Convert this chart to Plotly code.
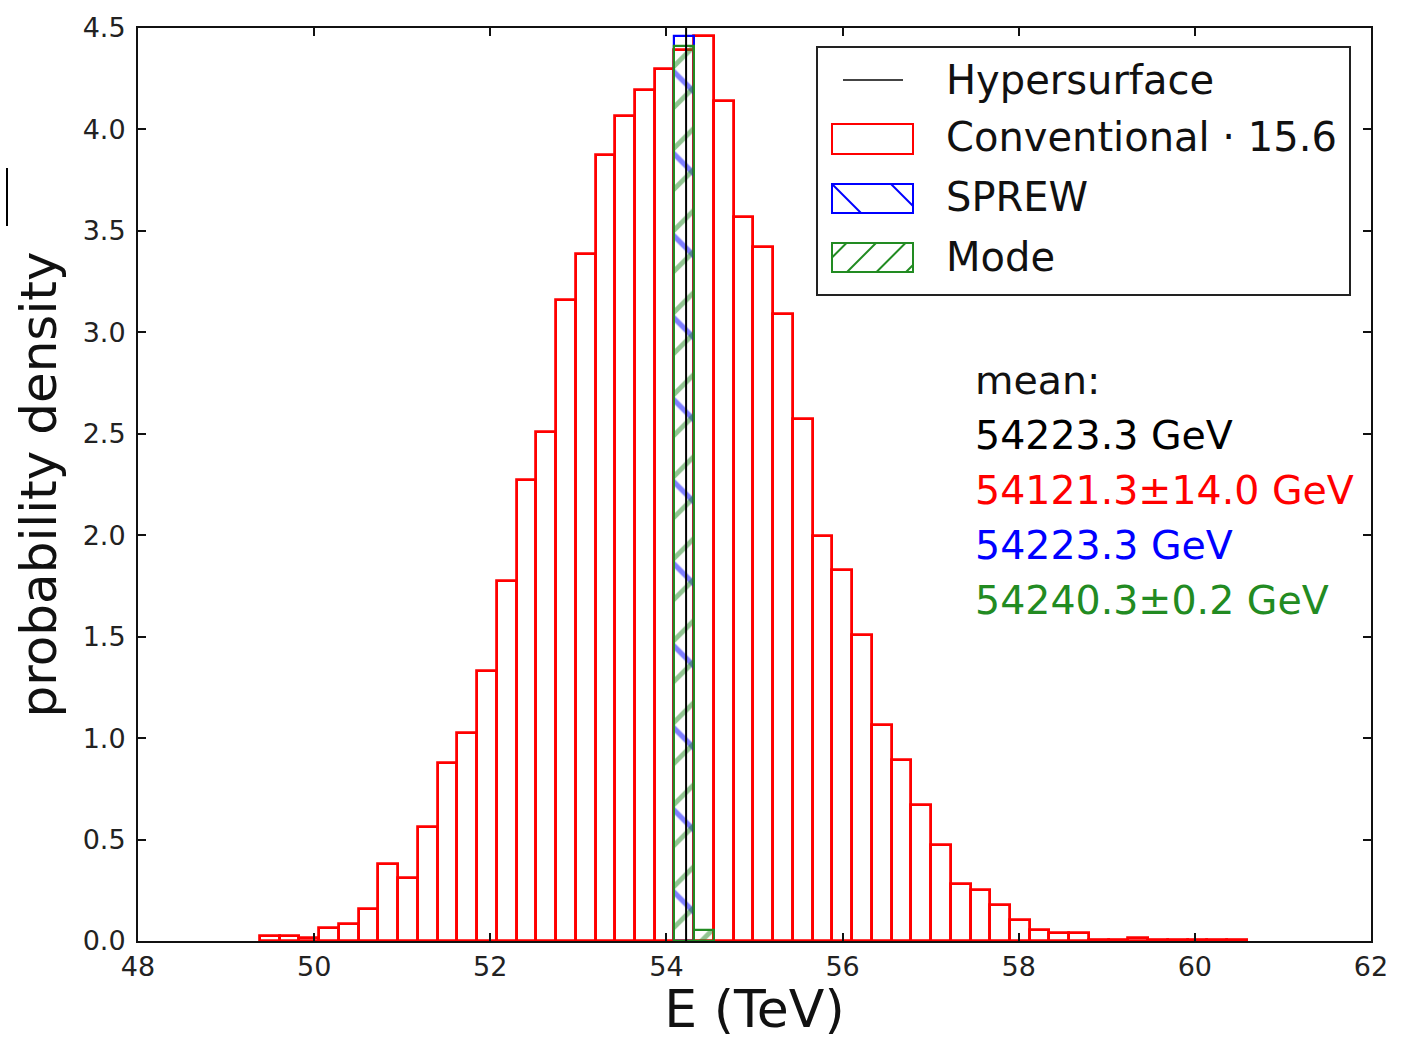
import numpy as np
import plotly.graph_objects as go

# ---------------- data ----------------
bin_start = 49.385          # TeV, left edge of first histogram bin
bin_width = 0.2241          # TeV
conventional_density = [
    0.026, 0.025, 0.013, 0.066, 0.082, 0.158, 0.380, 0.309, 0.563, 0.879,
    1.024, 1.331, 1.774, 2.272, 2.509, 3.159, 3.386, 3.874, 4.066, 4.194,
    4.298, 4.390, 4.460, 4.140, 3.568, 3.420, 3.090, 2.573, 1.996, 1.830,
    1.508, 1.065, 0.892, 0.670, 0.473, 0.281, 0.251, 0.177, 0.103, 0.054,
    0.041, 0.041, 0.003, 0.004, 0.013, 0.003, 0.003, 0.005, 0.005, 0.005,
]
sprew_bins = [21]
sprew_density = [4.462]
mode_bins = [21, 22]
mode_density = [4.410, 0.054]
hypersurface_mean = 54.2233  # TeV

legend_labels = ["Hypersurface", "Conventional \u00b7 15.6", "SPREW", "Mode"]
mean_title = "mean:"
mean_labels = ["54223.3 GeV", "54121.3\u00b114.0 GeV", "54223.3 GeV", "54240.3\u00b10.2 GeV"]
mean_colors = ["black", "#ff0000", "#0000ff", "#228b22"]

x_range = [48, 62]
y_range = [0, 4.5]

# ---------------- figure geometry ----------------
W, H = 1412, 1039
L, R, T, B = 138, 41, 28, 98
PW, PH = W - L - R, H - T - B


def px(xp):
    return (xp - L) / PW


def py(yp):
    return (H - B - yp) / PH


FONT = "DejaVu Sans"
RED, BLUE, GREEN = "#ff0000", "#0000ff", "#228b22"

n = len(conventional_density)
centers = bin_start + bin_width * (np.arange(n) + 0.5)

fig = go.Figure()

fig.add_trace(go.Bar(
    x=centers, y=conventional_density, width=bin_width,
    marker=dict(color="rgba(0,0,0,0)", line=dict(color=RED, width=2.8)),
    name=legend_labels[1], showlegend=False,
))
fig.add_trace(go.Bar(
    x=centers[sprew_bins], y=sprew_density, width=bin_width,
    marker=dict(color="rgba(0,0,0,0)", line=dict(color=BLUE, width=2.2),
                pattern=dict(shape="\\", size=58, solidity=0.09,
                             fgcolor=BLUE, bgcolor="rgba(0,0,0,0)")),
    name=legend_labels[2], showlegend=False,
))
fig.add_trace(go.Bar(
    x=centers[mode_bins], y=mode_density, width=bin_width,
    marker=dict(color="rgba(0,0,0,0)", line=dict(color=GREEN, width=2.2),
                pattern=dict(shape="/", size=29, solidity=0.17,
                             fgcolor=GREEN, bgcolor="rgba(0,0,0,0)")),
    name=legend_labels[3], showlegend=False,
))

shapes = []
annotations = []

# ---------------- custom legend ----------------
shapes.append(dict(type="rect", xref="paper", yref="paper",
                   x0=px(817), x1=px(1350), y0=py(295), y1=py(47),
                   line=dict(color="#222222", width=2), fillcolor="white", layer="above"))
shapes.append(dict(type="line", xref="paper", yref="paper",
                   x0=px(843), x1=px(903), y0=py(80), y1=py(80),
                   line=dict(color="#444444", width=2)))
sym_x0, sym_x1 = 832, 913
boxes = [(124, 154, RED), (184, 213, BLUE), (243, 272, GREEN)]
for y0, y1, c in boxes:
    shapes.append(dict(type="rect", xref="paper", yref="paper",
                       x0=px(sym_x0), x1=px(sym_x1), y0=py(y1), y1=py(y0),
                       line=dict(color=c, width=2), fillcolor="rgba(0,0,0,0)"))


def hatch(x0, x1, y0, y1, slope, c0, step, color):
    # screen coords lines: y = slope*x + c
    segs = []
    for k in range(-10, 11):
        c = c0 + k * step
        xa = (y0 - c) / slope
        xb = (y1 - c) / slope
        lo, hi = max(x0, min(xa, xb)), min(x1, max(xa, xb))
        if hi - lo > 1:
            segs.append(dict(type="line", xref="paper", yref="paper",
                             x0=px(lo), x1=px(hi),
                             y0=py(slope * lo + c), y1=py(slope * hi + c),
                             line=dict(color=color, width=2)))
    return segs


shapes += hatch(sym_x0, sym_x1, 184, 213, 1, 184 - 832, 59, BLUE)
shapes += hatch(sym_x0, sym_x1, 243, 272, -1, 272 + 847, 29.5, GREEN)

leg_y = [80, 137, 197, 257]
for lab, yy in zip(legend_labels, leg_y):
    annotations.append(dict(text=lab, xref="paper", yref="paper", x=px(944), y=py(yy),
                            xanchor="left", yanchor="middle", showarrow=False,
                            font=dict(family=FONT, size=40, color="#111111")))

# ---------------- mean annotations ----------------
annotations.append(dict(text=mean_title, xref="paper", yref="paper", x=px(973), y=py(380),
                        xanchor="left", yanchor="middle", showarrow=False,
                        font=dict(family=FONT, size=39.5, color="#111111")))
for lab, col, yy in zip(mean_labels, mean_colors, [435, 490, 545, 600]):
    annotations.append(dict(text=lab, xref="paper", yref="paper", x=px(973), y=py(yy),
                            xanchor="left", yanchor="middle", showarrow=False,
                            font=dict(family=FONT, size=39.5, color=col)))

# small stray mark at left edge of the reference image
shapes.append(dict(type="line", xref="paper", yref="paper",
                   x0=px(7), x1=px(7), y0=py(226), y1=py(168),
                   line=dict(color="black", width=2)))

axis_common = dict(
    showline=True, linecolor="#111111", linewidth=2, mirror="ticks",
    ticks="inside", ticklen=8, tickwidth=1.5, tickcolor="#111111",
    showgrid=False, zeroline=False,
    tickfont=dict(family=FONT, size=27, color="#222222"),
)

fig.update_layout(
    width=W, height=H, autosize=False,
    margin=dict(l=L, r=R, t=T, b=B, pad=0),
    paper_bgcolor="white", plot_bgcolor="white",
    barmode="overlay", bargap=0, showlegend=False,
    shapes=shapes, annotations=annotations,
    xaxis=dict(range=x_range, tick0=48, dtick=2, ticklabelstandoff=1,
               title=dict(text="E (TeV)", font=dict(family=FONT, size=52, color="#111111"),
                          standoff=6),
               **axis_common),
    yaxis=dict(range=y_range, tick0=0, dtick=0.5, tickformat=".1f", ticklabelstandoff=5,
               title=dict(text="probability density", font=dict(family=FONT, size=50, color="#111111"),
                          standoff=10),
               **axis_common),
)

# hypersurface mean as a vertical line spanning the full axis height
fig.add_vline(x=hypersurface_mean, line=dict(color="black", width=2))

fig.write_html("out.html")
